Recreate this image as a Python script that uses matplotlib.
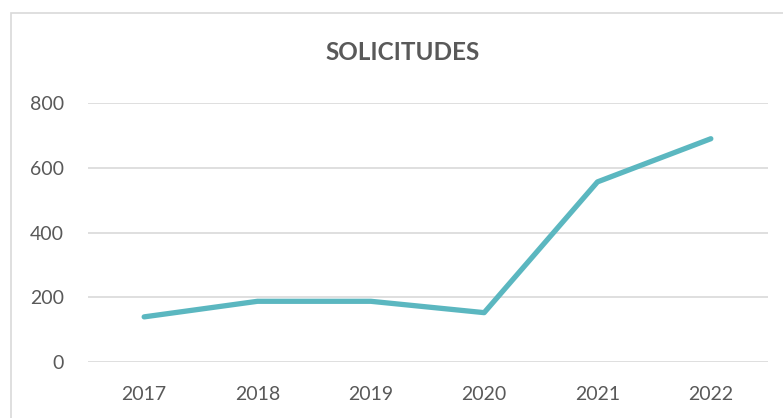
import matplotlib
matplotlib.use("Agg")
import matplotlib.pyplot as plt
from matplotlib.patches import Rectangle

# data
years = ["2017", "2018", "2019", "2020", "2021", "2022"]
solicitudes = [140, 188, 188, 153, 556, 689]
y_ticks = [0, 200, 400, 600, 800]

TEXT = "#595959"
GRID = "#D9D9D9"
LINE = "#5BB7C0"

plt.rcParams["font.family"] = ["Lato", "DejaVu Sans"]

fig = plt.figure(figsize=(7.83, 4.18), dpi=100)

# chart area border (cropped on the right and bottom in the reference)
fig.patches.append(Rectangle((11 / 783, -0.05), 1.0, 1 - 13.5 / 418 + 0.05,
                             transform=fig.transFigure, fill=False,
                             edgecolor=GRID, linewidth=1.2))

ax = fig.add_axes([87.5 / 783, 1 - 362.3 / 418, 680 / 783, 259.6 / 418])

x = list(range(len(years)))
ax.plot(x, solicitudes, color=LINE, linewidth=3.8, solid_capstyle="round",
        solid_joinstyle="round", zorder=3)

ax.set_xlim(-0.5, len(years) - 0.5)
ax.set_ylim(0, 800)
ax.set_yticks(y_ticks)
ax.set_xticks(x)
ax.set_xticklabels(years)
ax.grid(axis="y", color=GRID, linewidth=1.2)
ax.set_axisbelow(True)
for s in ax.spines.values():
    s.set_visible(False)
ax.tick_params(length=0, labelsize=14, labelcolor=TEXT)
ax.tick_params(axis="y", pad=17)
ax.tick_params(axis="x", pad=17)

fig.text(403 / 783, 1 - 53 / 418, "SOLICITUDES", ha="center", va="center",
         fontsize=17.5, fontweight="bold", color=TEXT)

fig.savefig("out.png", dpi=100)
